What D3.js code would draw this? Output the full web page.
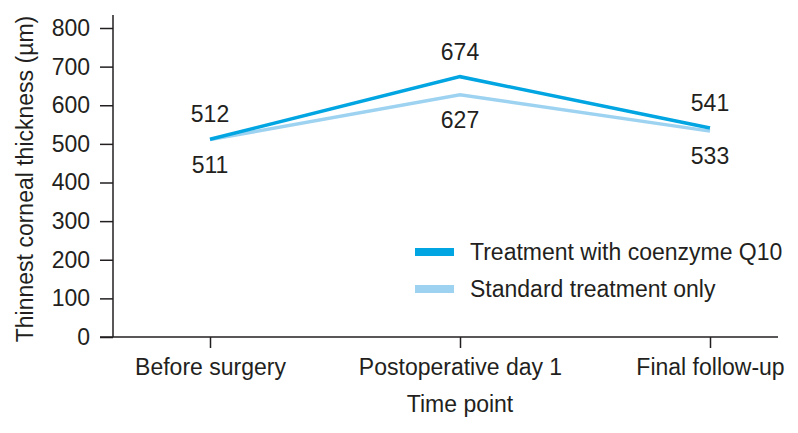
<!DOCTYPE html>
<html>
<head>
<meta charset="utf-8">
<script src="https://cdn.jsdelivr.net/npm/d3@7"></script>
<style>
  body { margin: 0; background: #fff; }
  svg text { font-family: "Liberation Sans", Arial, sans-serif; fill: #231f20; }
</style>
</head>
<body>
<div id="chart"></div>
<script>
const categories = ["Before surgery", "Postoperative day 1", "Final follow-up"];
const q10Values = [512, 674, 541];
const standardValues = [511, 627, 533];
const seriesNames = ["Treatment with coenzyme Q10", "Standard treatment only"];
const yTicks = [0, 100, 200, 300, 400, 500, 600, 700, 800];

const width = 798, height = 433;
const colors = ["#00a5e1", "#9dd3f1"];
const fontSize = 23;

const svg = d3.select("#chart").append("svg")
    .attr("width", width)
    .attr("height", height);

const xScale = d3.scalePoint().domain(categories).range([210, 710]);
const yScale = d3.scaleLinear().domain([0, 800]).range([337, 28]);

// y axis
const yAxis = svg.append("g")
    .attr("transform", "translate(113,0)")
    .call(d3.axisLeft(yScale).tickValues(yTicks).tickSize(13).tickPadding(10));
yAxis.select(".domain").attr("d", "M0,15V337");
yAxis.selectAll("line, .domain").attr("stroke", "#231f20").attr("stroke-width", 1.5);
yAxis.selectAll("text").attr("font-size", fontSize).attr("fill", "#231f20");

// x axis
const xAxis = svg.append("g")
    .attr("transform", "translate(0,337)")
    .call(d3.axisBottom(xScale).tickSize(11).tickPadding(11));
xAxis.select(".domain").attr("d", "M100,0H778");
xAxis.selectAll("line, .domain").attr("stroke", "#231f20").attr("stroke-width", 1.5);
xAxis.selectAll("text").attr("font-size", fontSize).attr("fill", "#231f20");

// axis titles
svg.append("text")
    .attr("transform", "translate(33,179) rotate(-90)")
    .attr("text-anchor", "middle")
    .attr("font-size", fontSize)
    .text("Thinnest corneal thickness (\u00b5m)");

svg.append("text")
    .attr("x", 460).attr("y", 412)
    .attr("text-anchor", "middle")
    .attr("font-size", fontSize)
    .text("Time point");

// lines
const line = d3.line()
    .x((d, i) => xScale(categories[i]))
    .y(d => yScale(d));

const series = [q10Values, standardValues];
[1, 0].forEach(k => {
    svg.append("path")
        .datum(series[k])
        .attr("fill", "none")
        .attr("stroke", colors[k])
        .attr("stroke-width", 3.5)
        .attr("d", line);
});

// value labels: Q10 above, standard below
svg.selectAll(".lab-q10").data(q10Values).join("text")
    .attr("x", (d, i) => xScale(categories[i]))
    .attr("y", d => yScale(d) - 17)
    .attr("text-anchor", "middle")
    .attr("font-size", fontSize)
    .text(d => d);

svg.selectAll(".lab-std").data(standardValues).join("text")
    .attr("x", (d, i) => xScale(categories[i]))
    .attr("y", d => yScale(d) + 33)
    .attr("text-anchor", "middle")
    .attr("font-size", fontSize)
    .text(d => d);

// legend
const legend = svg.append("g").attr("transform", "translate(415,252)");
seriesNames.forEach((name, i) => {
    const g = legend.append("g").attr("transform", `translate(0,${i * 37})`);
    g.append("rect").attr("x", 0).attr("y", -4).attr("width", 39).attr("height", 8).attr("fill", colors[i]);
    g.append("text").attr("x", 55).attr("y", 8).attr("font-size", fontSize).text(name);
});
</script>
</body>
</html>
